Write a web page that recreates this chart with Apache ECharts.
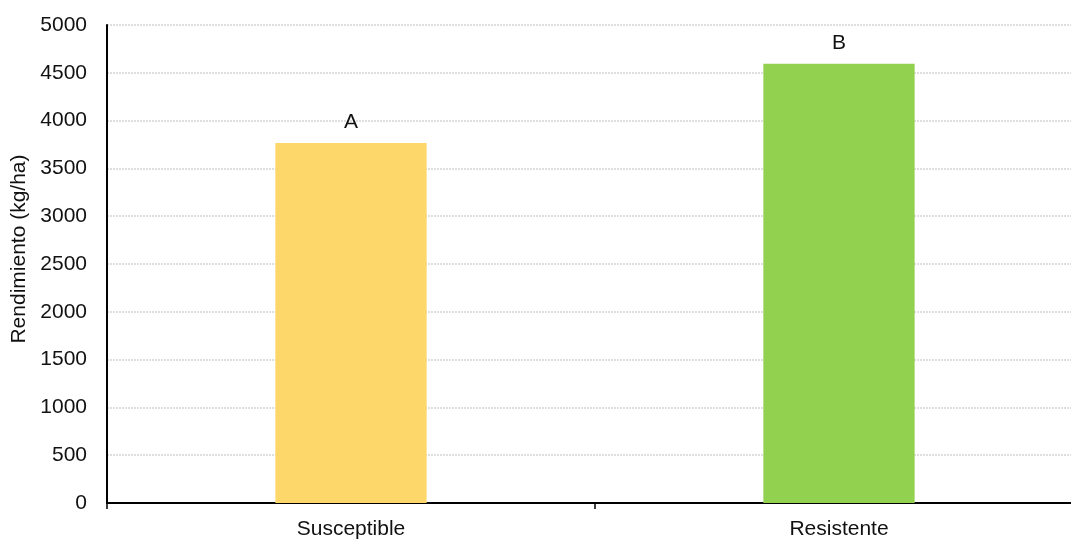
<!DOCTYPE html>
<html>
<head>
<meta charset="utf-8">
<script src="https://cdn.jsdelivr.net/npm/echarts@6/dist/echarts.min.js"></script>
<style>
html, body { margin: 0; padding: 0; background: #fff; overflow: hidden; }
/* the plot runs slightly past the right edge of the page */
#chart { width: 1083px; height: 542px; }
</style>
</head>
<body>
<div id="chart"></div>
<script>
// Rendimiento por tipo de híbrido
const categories = ['Susceptible', 'Resistente'];
const yieldValues = [3765, 4595];
const letters = ['A', 'B'];
const barColors = ['#FDD76A', '#92D050'];
const yTicks = [0, 500, 1000, 1500, 2000, 2500, 3000, 3500, 4000, 4500, 5000];

const font = 'Liberation Sans, Arial, sans-serif';
const chart = echarts.init(document.getElementById('chart'));

chart.setOption({
  animation: false,
  grid: { left: 107, right: 0, top: 25, bottom: 39 },
  xAxis: {
    type: 'category',
    data: categories,
    boundaryGap: true,
    axisLine: { lineStyle: { color: '#000', width: 2 } },
    axisTick: { show: true, length: 6, lineStyle: { color: '#000', width: 1.5 } },
    axisLabel: { color: '#111', fontSize: 21, fontFamily: font, margin: 16 }
  },
  yAxis: {
    type: 'value',
    min: yTicks[0],
    max: yTicks[yTicks.length - 1],
    interval: yTicks[1] - yTicks[0],
    name: 'Rendimiento (kg/ha)',
    nameLocation: 'middle',
    nameGap: 71,
    nameTextStyle: { color: '#111', fontSize: 21, fontFamily: font, padding: [0, 0, 0, 30] },
    axisLine: { show: true, lineStyle: { color: '#000', width: 2 } },
    axisTick: { show: false },
    axisLabel: { color: '#111', fontSize: 21, fontFamily: font, margin: 20, formatter: v => String(v) },
    splitLine: { lineStyle: { color: '#d4d4d4', width: 1.5, type: [2, 1] } }
  },
  series: [{
    type: 'bar',
    barWidth: '31%',
    data: yieldValues.map((v, i) => ({ value: v, itemStyle: { color: barColors[i] } })),
    label: {
      show: true,
      position: 'top',
      distance: 10,
      color: '#111',
      fontSize: 21,
      fontFamily: font,
      formatter: p => letters[p.dataIndex]
    }
  }]
});
</script>
</body>
</html>
